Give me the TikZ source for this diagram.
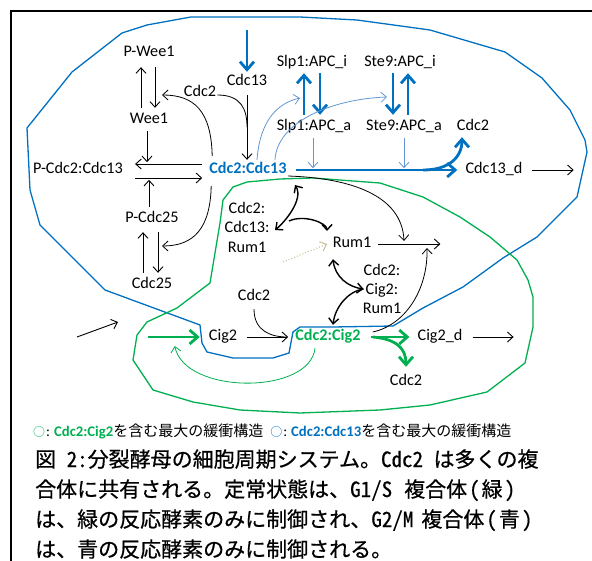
\documentclass[tikz,border=0pt]{standalone}
\usepackage{fontspec}
\setmainfont{Carlito}
\newfontfamily\jp{Noto Sans CJK JP}
\newfontfamily\jpc[RawFeature={embolden=0.6}]{Noto Sans CJK JP}
\newfontfamily\jph[CharacterWidth=Half,RawFeature={embolden=0.6}]{Noto Sans CJK JP}
\usetikzlibrary{arrows.meta}
\XeTeXlinebreaklocale "ja"
\XeTeXlinebreakskip=0pt plus 1pt
\definecolor{cblue}{RGB}{0,112,192}
\definecolor{lblue}{RGB}{100,150,210}
\definecolor{cgreen}{RGB}{0,176,80}
\definecolor{ctan}{RGB}{196,189,151}
\tikzset{
 lbl/.style={font=\fontsize{16.2}{19.5}\selectfont, inner sep=1pt, text height=11pt, text depth=3pt},
 lbl3/.style={font=\fontsize{16.2}{19.5}\selectfont, inner sep=1pt, align=center},
 bb/.style={lbl, text=cblue, font=\fontsize{16.2}{19.5}\selectfont\bfseries},
 gb/.style={lbl, text=cgreen, font=\fontsize{16.2}{19.5}\selectfont\bfseries},
 head/.style={-{Straight Barb[length=5.5pt,width=10pt]}},
 arr/.style={head, line width=0.9pt},
 arrc/.style={head, line width=0.8pt},
 curveplain/.style={line width=0.8pt},
 yarr/.style={{Straight Barb[length=5.5pt,width=10pt]}-{Straight Barb[length=5.5pt,width=10pt]}, line width=1.4pt},
 yone/.style={head, line width=1.4pt},
 bthick/.style={draw=cblue, line width=2.8pt, -{Straight Barb[length=8pt,width=14pt]}},
 gthick/.style={draw=cgreen, line width=2.8pt, -{Straight Barb[length=8pt,width=14pt]}},
 lthin/.style={draw=lblue, line width=0.8pt, head},
 gthin/.style={draw=cgreen, line width=0.8pt, head},
 tandot/.style={draw=ctan, line width=1pt, dotted, head},
 polyb/.style={draw=cblue, line width=1.3pt, line join=round},
 polyg/.style={draw=cgreen, line width=1.3pt, line join=round},
 capline/.style={anchor=base west, inner sep=0pt, font=\jpc\fontsize{21}{25}\selectfont},
 frameline/.style={draw=black, line width=2.2pt, line join=miter},
}
\begin{document}
\begin{tikzpicture}[x=1pt,y=-1pt]
\useasboundingbox (0,0) rectangle (592,561);
% buffering structures
\draw[polyb] (122,33) -- (147,25) -- (191,17) -- (300,17) -- (357,20) -- (430,30) -- (505,52) -- (542,78) -- (570,110) -- (585,140) -- (587,152) -- (577,197) -- (537,237) -- (503,258) -- (463,287) -- (423,308) -- (393,326) -- (333,327) -- (300,327) -- (293,332) -- (289,353) -- (273,358) -- (233,358) -- (207,352) -- (202,343) -- (200,325) -- (105,290) -- (40,225) -- (30,190) -- (27,128) -- (72,72) -- cycle;
\draw[polyg] (247,182) -- (280,179) -- (313,178) -- (380,183) -- (423,197) -- (460,217) -- (490,237) -- (517,260) -- (528,280) -- (533,297) -- (533,327) -- (525,363) -- (487,392) -- (430,405) -- (380,410) -- (300,413) -- (240,410) -- (193,402) -- (153,390) -- (133,360) -- (137,335) -- (147,322) -- (177,308) -- (210,283) -- (220,223) -- (223,200) -- (233,187) -- cycle;

% nodes
\node[lbl] (pwee1) at (149,53) {P-Wee1};
\node[lbl] (wee1) at (149,120) {Wee1};
\node[lbl] (cdc2a) at (200,93) {Cdc2};
\node[lbl] (cdc13) at (247,82) {Cdc13};
\node[lbl] (pcc) at (78,170) {P-Cdc2:Cdc13};
\node[bb] (cc13) at (248,170) {Cdc2:Cdc13};
\node[lbl] (pcdc25) at (152,219) {P-Cdc25};
\node[lbl] (cdc25) at (152,285) {Cdc25};
\node[lbl] (slpi) at (312,63) {Slp1:APC\_i};
\node[lbl] (stei) at (400,63) {Ste9:APC\_i};
\node[lbl] (slpa) at (314,127) {Slp1:APC\_a};
\node[lbl] (stea) at (404,127) {Ste9:APC\_a};
\node[lbl] (cdc2b) at (473,127) {Cdc2};
\node[lbl] (cdc13d) at (494,170) {Cdc13\_d};
\node[lbl3] (ccr) at (247,227) {Cdc2:\\Cdc13:\\Rum1};
\node[lbl] (rum1) at (352,244) {Rum1};
\node[lbl3, font=\fontsize{16.2}{19}\selectfont] (cgr) at (382,289) {Cdc2:\\Cig2:\\Rum1};
\node[gb] (cc2) at (328,337) {Cdc2:Cig2};
\node[lbl] (cig2) at (223,337) {Cig2};
\node[lbl] (cdc2c) at (254,297) {Cdc2};
\node[lbl] (cig2d) at (440,337) {Cig2\_d};
\node[lbl] (cdc2d) at (406,382) {Cdc2};

% free ends
\coordinate (wk) at (162,95);
\coordinate (ck) at (162,246);
\coordinate (bj) at (423,170);
\coordinate (t1) at (300,98);
\coordinate (t2) at (387,97);
\coordinate (yt) at (295,185);
\coordinate (lt) at (275,230);
\coordinate (yj) at (289,221);
\coordinate (rt) at (327,231);
\coordinate (dt) at (283,262);
\coordinate (rk) at (404,241);
\coordinate (rk2) at (427,248);
\coordinate (ba1) at (77,337);
\coordinate (ba2) at (118,322);

% Wee1 cycle
\draw[arr, shorten <=4pt, shorten >=6pt] ([xshift=-8pt]wee1.north) -- ([xshift=-8pt]pwee1.south);
\draw[arr, shorten <=6pt, shorten >=4pt] ([xshift=6pt]pwee1.south) -- ([xshift=6pt]wee1.north);
\draw[arr] ([xshift=-2pt,yshift=-3pt]wee1.south) -- ++(0,31);
% Cdc2:Cdc13 phosphorylation
\draw[arr, shorten <=6pt, shorten >=11pt] ([yshift=6pt]cc13.west) -- ([yshift=6pt]pcc.east);
\draw[arr, shorten <=11pt, shorten >=6pt] ([yshift=-8pt]pcc.east) -- ([yshift=-8pt]cc13.west);
\draw[arr] ([xshift=-3pt,yshift=4pt]pcdc25.north) -- ++(0,-27);
% Cdc25 cycle
\draw[arr, shorten <=4pt, shorten >=5pt] ([xshift=-9pt]cdc25.north) -- ([xshift=-9pt]pcdc25.south);
\draw[arr, shorten <=5pt, shorten >=4pt] ([xshift=6pt]pcdc25.south) -- ([xshift=6pt]cdc25.north);
% feedback curves
\draw[arrc] ([xshift=4pt,yshift=6pt]cc13.north west) .. controls +(-1,-45) and +(32,0) .. (wk);
\draw[arrc] ([xshift=3pt,yshift=-8pt]cc13.south west) .. controls +(-1,42) and +(32,0) .. (ck);
% Cdc13 + Cdc2 -> Cdc2:Cdc13
\draw[bthick, shorten >=2pt] ([yshift=44pt]cdc13.north) -- (cdc13.north);
\draw[arr, shorten <=5pt, shorten >=2pt] (cdc13.south) -- (cdc13.south |- cc13.north);
\draw[curveplain] ([yshift=-2pt]cdc2a.east) .. controls +(24,0) and +(0,-18) .. ([yshift=-37pt]cdc13.south);
% APC
\draw[bthick, shorten <=4pt, shorten >=2pt] ([xshift=-10pt]slpa.north) -- ([xshift=-10pt]slpa.north |- slpi.south);
\draw[bthick, shorten <=2pt, shorten >=4pt] ([xshift=6pt]slpa.north |- slpi.south) -- ([xshift=6pt]slpa.north);
\draw[bthick, shorten <=2pt, shorten >=4pt] ([xshift=-11pt]stea.north |- stei.south) -- ([xshift=-11pt]stea.north);
\draw[bthick, shorten <=4pt, shorten >=2pt] ([xshift=4pt]stea.north) -- ([xshift=4pt]stea.north |- stei.south);
\draw[lthin] ([xshift=9pt,yshift=2pt]cc13.north) .. controls +(3,-40) and +(-22,5) .. (t1);
\draw[lthin] ([xshift=27pt,yshift=2pt]cc13.north) .. controls +(2,-38) and +(-55,2) .. (t2);
\draw[lthin, shorten <=3pt] ([xshift=-1pt]slpa.south) -- ++(0,33);
\draw[lthin, shorten <=3pt] (stea.south) -- ++(0,33);
% degradation of Cdc13
\draw[bthick, shorten <=8pt, shorten >=7pt] (cc13.east) -- (cc13.east -| cdc13d.west);
\draw[bthick] (bj) .. controls +(26,0) and +(0,20) .. ([xshift=-11pt,yshift=-2pt]cdc2b.south);
\draw[arr] ([xshift=8pt]cdc13d.east) -- ++(42,0);
% Rum1 complexes
\draw[yarr] (yt) .. controls +(9,14) and +(10,-8) .. (lt);
\draw[yone] (yj) .. controls +(15,-7) and +(0,-8) .. (rt);
\draw[tandot] (dt) -- (rt |- rum1.west);
\draw[arr] ([xshift=6pt]rum1.east) -- ++(62,0);
\draw[arrc] ([yshift=-6pt]cc13.east) .. controls (350,178) and (402,195) .. (rk);
\coordinate (ct) at ([xshift=2pt]cgr.west);
\draw[yarr] ([xshift=-19pt,yshift=-7pt]rum1.south) .. controls +(2,18) and +(-15,-2) .. (ct);
\draw[yone] (ct) .. controls +(-15,2) and +(2,-18) .. ([xshift=5pt,yshift=4pt]cc2.north);
\draw[arrc] ([xshift=11pt,yshift=5pt]cc2.east) .. controls (405,325) and (428,290) .. (rk2);
% Cig2 branch
\draw[gthick, shorten >=8pt] ([xshift=-60pt]cig2.west) -- (cig2.west);
\draw[arr] (ba1) -- (ba2);
\draw[arr, shorten <=9pt, shorten >=6pt] (cig2.east) -- (cc2.west);
\draw[curveplain] ([yshift=-4pt]cdc2c.south) .. controls +(0,22) and +(-16,0) .. ([xshift=-7pt]cc2.west);
\draw[gthin] ([xshift=-13pt,yshift=-3pt]cc2.south) .. controls (310,395) and (185,395) .. ([xshift=-33pt,yshift=-9pt]cig2.west);
\draw[gthick] ([xshift=9pt]cc2.east) -- ([xshift=-7pt]cig2d.west);
\draw[gthick] ([xshift=11pt]cc2.east) .. controls +(24,2) and +(0,-18) .. ([yshift=7pt]cdc2d.north);
\draw[arr] ([xshift=9pt]cig2d.east) -- ++(41,0);

% legend
\node[anchor=base west, inner sep=0pt] (legend) at (33,436) {{\jp\fontsize{12}{14}\selectfont\textcolor{cgreen}{○}}\hspace{1pt}{\fontsize{14.7}{17}\selectfont:\hspace{4pt}\textbf{\textcolor{cgreen}{Cdc2:Cig2}}}{\jp\fontsize{15}{18}\selectfont を含む最大の緩衝構造}\hspace{7pt}{\jp\fontsize{12}{14}\selectfont\textcolor{cblue}{○}}\hspace{1pt}{\fontsize{14.7}{17}\selectfont:\hspace{4pt}\textbf{\textcolor{cblue}{Cdc2:Cdc13}}}{\jp\fontsize{15}{18}\selectfont を含む最大の緩衝構造}};
% caption
\node[capline] (cap1) at (35,467) {\hbox to 513pt{図\hspace{10.5pt}{\jph 2:}分裂酵母の細胞周期システム。{\jph Cdc2}\hspace{10.5pt}は多くの複}};
\node[capline] (cap2) at (35,497) {\hbox to 513pt{合体に共有される。定常状態は、{\jph G1/S}\hspace{12pt}複合体\hspace{2pt}{\jph (}\hspace{2pt}緑\hspace{2pt}{\jph )}}};
\node[capline] (cap3) at (35,527) {\hbox to 513pt{は、緑の反応酵素のみに制御され、{\jph G2/M}\hspace{8pt}複合体\hspace{2pt}{\jph (}\hspace{2pt}青\hspace{2pt}{\jph )}}};
\node[capline] (cap4) at (35,557) {は、青の反応酵素のみに制御される。};
% frame (open to the right and bottom)
\draw[frameline] (11,563) -- (11,11) -- (594,11);
\end{tikzpicture}
\end{document}
